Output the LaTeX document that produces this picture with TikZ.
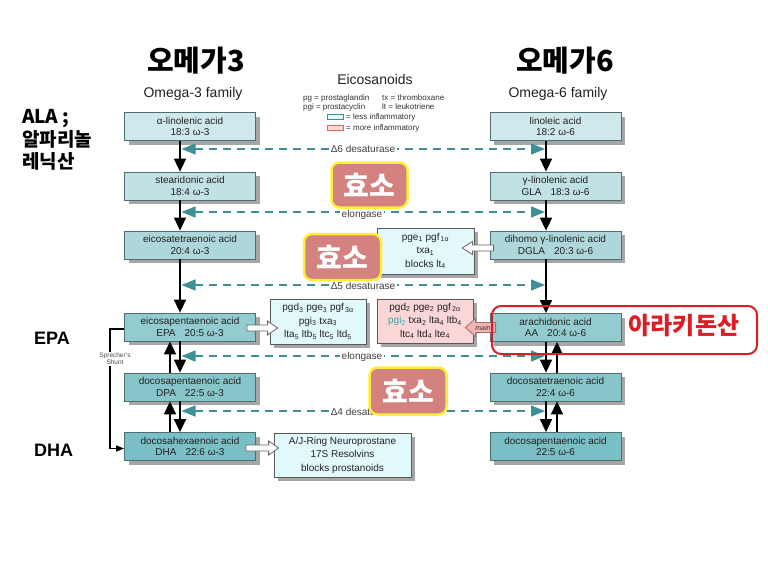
\documentclass[tikz,border=0pt]{standalone}
\usepackage{fontspec}
\setmainfont{Liberation Sans}
\newfontfamily\kr{Noto Sans CJK KR}
\usetikzlibrary{arrows.meta,shadows,calc}
\definecolor{bd}{HTML}{4E6E72}
\definecolor{c1}{HTML}{CFE8EB}
\definecolor{c2}{HTML}{C2E1E4}
\definecolor{c3}{HTML}{AED7DB}
\definecolor{c4}{HTML}{92CCD0}
\definecolor{c5}{HTML}{86C5CA}
\definecolor{c6}{HTML}{7ABFC5}
\definecolor{tealdash}{HTML}{3F9094}
\definecolor{prodblue}{HTML}{E2F9FB}
\definecolor{prodpink}{HTML}{FAD6D6}
\definecolor{mainpink}{HTML}{F3B4B4}
\definecolor{enzfill}{HTML}{D4827F}
\definecolor{enzdraw}{HTML}{FFEE3A}
\definecolor{hlred}{HTML}{D91E26}
\definecolor{pgiteal}{HTML}{3BA3AA}
\definecolor{txt}{HTML}{222222}
\newcommand\blockarrow[6]{%
\draw[#1] ($(#2)+(0,-#5)$) -- ($(#3)+(#4,-#5)$) -- ($(#3)+(#4,-#6)$) -- (#3) -- ($(#3)+(#4,#6)$) -- ($(#3)+(#4,#5)$) -- ($(#2)+(0,#5)$) -- cycle;}
\begin{document}
\begin{tikzpicture}[x=1pt,y=-1pt,
  shad/.style={drop shadow={shadow xshift=4pt, shadow yshift=-4pt, fill=black!35, opacity=1}},
  acid/.style={draw=bd, line width=0.8pt, minimum width=131pt, minimum height=28pt, inner sep=0pt, align=center, text=txt, font=\fontsize{10}{11.5}\selectfont, shad},
  prod/.style={draw=black!65, line width=0.8pt, inner sep=0pt, align=center, text=txt, font=\fontsize{10}{13.5}\selectfont, shad},
  blk/.style={line width=1.6pt, -{Triangle[width=12pt,length=13pt]}},
  dsh/.style={draw=tealdash, line width=1.3pt, dash pattern=on 8pt off 6pt, {Triangle[width=11pt,length=14pt,fill=tealdash]}-{Triangle[width=11pt,length=14pt,fill=tealdash]}},
  dlab/.style={fill=white, inner sep=1.5pt, text=black!75, font=\fontsize{10}{10}\selectfont},
  enz/.style={fill=enzfill, draw=enzdraw, line width=2.5pt, rounded corners=8pt, text=white, font=\kr\bfseries\fontsize{28}{28}\selectfont, inner sep=0pt},
  hol/.style={draw=black!60, fill=white, line width=0.8pt, line join=miter},
  legt/.style={anchor=west, inner sep=0pt, text=black!80, font=\fontsize{8}{8}\selectfont},
  ttl/.style={text=txt, font=\fontsize{14}{14}\selectfont}
]
\useasboundingbox[fill=white] (0,0) rectangle (768,576);

% titles
\node (t3) at (196,61) {\kr\bfseries\fontsize{29}{29}\selectfont 오메가3};
\node (t6) at (565,61) {\kr\bfseries\fontsize{29}{29}\selectfont 오메가6};
\node[ttl] (f3) at (193,94) {Omega-3 family};
\node[ttl] (f6) at (558,94) {Omega-6 family};
\node[ttl] (eico) at (375,79) {Eicosanoids};
\node[legt] (lg1) at (303,98) {pg = prostaglandin};
\node[legt] (lg2) at (382,98) {tx = thromboxane};
\node[legt] (lg3) at (303,107) {pgi = prostacyclin};
\node[legt] (lg4) at (382,107) {lt = leukotriene};
\node[draw=tealdash, fill=prodblue, line width=0.8pt, minimum width=16pt, minimum height=5.5pt, inner sep=0pt] (sw1) at (335,117) {};
\node[legt] (lg5) at (346,117) {= less inflammatory};
\node[draw=hlred!70, fill=prodpink, line width=0.8pt, minimum width=16pt, minimum height=5.5pt, inner sep=0pt] (sw2) at (335,128) {};
\node[legt] (lg6) at (346,128) {= more inflammatory};

% left labels
\node[anchor=west, align=left, inner sep=0pt, font=\kr\bfseries\fontsize{19}{22.5}\selectfont] (alak) at (22,140) {ALA ;\\알파리놀\\레닉산};
\node[anchor=west, inner sep=0pt, font=\bfseries\fontsize{18}{18}\selectfont] (epak) at (34,338) {EPA};
\node[anchor=west, inner sep=0pt, font=\bfseries\fontsize{18}{18}\selectfont] (dhak) at (34,450) {DHA};

% acid boxes left
\node[acid, fill=c1] (ala) at (190,126.5) {α-linolenic acid\\18:3 ω-3};
\node[acid, fill=c2] (sda) at (190,186) {stearidonic acid\\18:4 ω-3};
\node[acid, fill=c3] (eta) at (190,245) {eicosatetraenoic acid\\20:4 ω-3};
\node[acid, fill=c4] (epa) at (190,327) {eicosapentaenoic acid\\EPA\hspace{0.9em}20:5 ω-3};
\node[acid, fill=c5] (dpa) at (190,387) {docosapentaenoic acid\\DPA\hspace{0.9em}22:5 ω-3};
\node[acid, fill=c6] (dha) at (190,446.5) {docosahexaenoic acid\\DHA\hspace{0.9em}22:6 ω-3};
% acid boxes right
\node[acid, fill=c1] (lin) at (555.5,126.5) {linoleic acid\\18:2 ω-6};
\node[acid, fill=c2] (gla) at (555.5,186) {γ-linolenic acid\\GLA\hspace{0.9em}18:3 ω-6};
\node[acid, fill=c3] (dgla) at (555.5,245) {dihomo γ-linolenic acid\\DGLA\hspace{0.9em}20:3 ω-6};
\node[acid, fill=c4] (aa) at (555.5,327.5) {arachidonic acid\\AA\hspace{0.9em}20:4 ω-6};
\node[acid, fill=c5] (dta) at (555.5,387) {docosatetraenoic acid\\22:4 ω-6};
\node[acid, fill=c6] (dpa6) at (555.5,446.5) {docosapentaenoic acid\\22:5 ω-6};

% vertical arrows
\coordinate (L) at (180,0);
\coordinate (LU) at (170,0);
\coordinate (R) at (546,0);
\coordinate (RU) at (557,0);
\draw[blk] (ala.south -| L) -- (sda.north -| L);
\draw[blk] (sda.south -| L) -- (eta.north -| L);
\draw[blk] (eta.south -| L) -- (epa.north -| L);
\draw[blk] (epa.south -| L) -- (dpa.north -| L);
\draw[blk] (dpa.north -| LU) -- (epa.south -| LU);
\draw[blk] (dpa.south -| L) -- (dha.north -| L);
\draw[blk] (dha.north -| LU) -- (dpa.south -| LU);
\draw[blk] (lin.south -| R) -- (gla.north -| R);
\draw[blk] (gla.south -| R) -- (dgla.north -| R);
\draw[blk] (dgla.south -| R) -- (aa.north -| R);
\draw[blk] (aa.south -| R) -- (dta.north -| R);
\draw[blk] (dta.north -| RU) -- (aa.south -| RU);
\draw[blk] (dta.south -| R) -- (dpa6.north -| R);
\draw[blk] (dpa6.north -| RU) -- (dta.south -| RU);

% Sprecher's shunt
\coordinate (sh) at (110,0);
\draw[line width=1.2pt, -{Triangle[width=6pt,length=8pt]}] ($(epa.west)+(0,2)$) -- ($(epa.west -| sh)+(0,2)$) -- ($(dha.west -| sh)+(0,2)$) -- ($(dha.west)+(0,2)$);
\node[fill=white, inner sep=1pt, align=center, text=black!70, font=\fontsize{6.5}{7}\selectfont] (shl) at (115,359) {Sprecher's\\Shunt};

% dashed enzyme lines
\coordinate (d1l) at (181.5,149); \coordinate (d1r) at (545,149);
\coordinate (d2l) at (181.5,212); \coordinate (d2r) at (545,212);
\coordinate (d3l) at (181.5,285); \coordinate (d3r) at (545,285);
\coordinate (d4l) at (181.5,356); \coordinate (d4r) at (545,356);
\coordinate (d5l) at (181.5,411); \coordinate (d5r) at (545,411);
\draw[dsh] (d1l) -- (d1r);
\draw[dsh] (d2l) -- (d2r);
\draw[dsh] (d3l) -- (d3r);
\draw[dsh] (d4l) -- (d4r);
\draw[dsh] (d5l) -- (d5r);
\node[dlab] (l1) at (363,149) {Δ6 desaturase};
\node[dlab] (l2) at (362,214.5) {elongase};
\node[dlab] (l3) at (363,286) {Δ5 desaturase};
\node[dlab] (l4) at (362,357) {elongase};
\node[dlab] (l5) at (363,412) {Δ4 desaturase};

% product boxes
\node[prod, fill=prodblue, minimum width=97pt, minimum height=46pt] (p1) at (425.5,251) {pge\textsubscript{1} pgf\textsubscript{\,1α}\\txa\textsubscript{1}\\blocks lt\textsubscript{4}};
\node[prod, fill=prodblue, minimum width=96pt, minimum height=45pt] (p3) at (318,321.5) {pgd\textsubscript{3} pge\textsubscript{3} pgf\textsubscript{\,3α}\\pgi\textsubscript{3} txa\textsubscript{3}\\lta\textsubscript{5} ltb\textsubscript{5} ltc\textsubscript{5} ltd\textsubscript{5}};
\node[prod, fill=prodpink, minimum width=96pt, minimum height=44pt] (p2) at (425,321) {pgd\textsubscript{2} pge\textsubscript{2} pgf\textsubscript{\,2α}\\\textcolor{pgiteal}{pgi\textsubscript{2}} txa\textsubscript{2} lta\textsubscript{4} ltb\textsubscript{4}\\ltc\textsubscript{4} ltd\textsubscript{4} lte\textsubscript{4}};
\node[prod, fill=prodblue, minimum width=137pt, minimum height=44pt] (p4) at (342.5,455) {A/J-Ring Neuroprostane\\17S Resolvins\\blocks prostanoids};

% hollow arrows
\coordinate (a1s) at ($(dgla.west)+(4,3)$);
\coordinate (a1t) at ($(p1.east |- a1s)+(-12,0)$);
\blockarrow{hol}{a1s}{a1t}{10}{3}{6.5}
\coordinate (a2s) at ($(epa.east)+(-9,1)$);
\coordinate (a2t) at ($(p3.west |- a2s)+(8,0)$);
\blockarrow{hol}{a2s}{a2t}{-10}{3}{7}
\coordinate (a3s) at ($(dha.east)+(-10,1.5)$);
\coordinate (a3t) at ($(p4.west |- a3s)+(5,0)$);
\blockarrow{hol}{a3s}{a3t}{-10}{3}{7}
\coordinate (a4s) at ($(aa.west)+(6,0)$);
\coordinate (a4t) at ($(p2.east |- a4s)+(-8,0)$);
\blockarrow{draw=hlred!45!black!60, fill=mainpink, line width=0.8pt, line join=miter}{a4s}{a4t}{10}{5}{9}
\node[inner sep=0pt, text=black!80, font=\fontsize{7}{7}\selectfont\itshape] (mainl) at ($(a4s)!0.42!(a4t)$) {main};

% enzyme overlays
\node[enz, minimum width=76pt, minimum height=45pt] (e1) at (369.5,185) {효소};
\node[enz, minimum width=77pt, minimum height=46pt] (e2) at (342.5,257) {효소};
\node[enz, minimum width=77pt, minimum height=47pt] (e3) at (408,391) {효소};

% highlight
\node[draw=hlred, line width=2pt, rounded corners=9pt, minimum width=265pt, minimum height=48pt, inner sep=0pt] (hl) at (624.5,330) {};
\node[text=hlred, font=\kr\bfseries\fontsize{24}{24}\selectfont] (aara) at (684,326) {아라키돈산};
\end{tikzpicture}
\end{document}
